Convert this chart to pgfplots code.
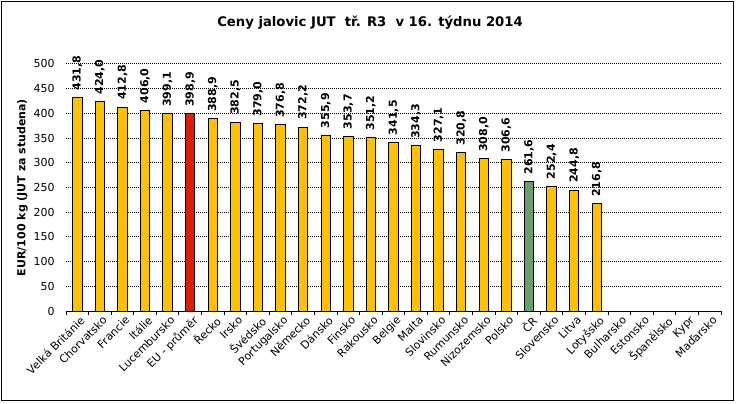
\documentclass[border=0pt]{standalone}
\usepackage{fontspec}
\setmainfont{DejaVu Sans}
\usepackage{pgfplots}
\pgfplotsset{compat=1.18}
\definecolor{barY}{HTML}{FFC000}
\definecolor{barR}{HTML}{DA2000}
\definecolor{barG}{HTML}{6A9E6A}
\begin{document}
\begin{tikzpicture}[x=0.75pt,y=0.75pt]
\path[fill=white] (0,0) rectangle (737,403);
\draw[line width=0.75pt] (1.5,3) rectangle (733.5,401.5);
\node[font=\bfseries\fontsize{9.9}{12}\selectfont] at (370,380) {Ceny jalovic JUT\ \ tř. R3\ \ v 16. týdnu 2014};
\begin{axis}[
  at={(49.5pt,69pt)}, anchor=south west,
  scale only axis, width=491.25pt, height=185.25pt,
  xmin=-0.5, xmax=28.5, ymin=0, ymax=500,
  axis x line=bottom, axis y line=left,
  axis line style={-},
  y axis line style={draw=none},
  x axis line style={line width=0.75pt},
  ytick={0,50,...,500},
  xtick={0,...,28},
  minor xtick={-0.5,0.5,...,28.5},
  xtick align=outside,
  major tick length=0pt, minor tick length=3pt,
  minor tick style={black, line width=0.75pt},
  xticklabels={Velká Británie,Chorvatsko,Francie,Itálie,Lucembursko,EU - průměr,Řecko,Irsko,Švédsko,Portugalsko,Německo,Dánsko,Finsko,Rakousko,Belgie,Malta,Slovinsko,Rumunsko,Nizozemsko,Polsko,ČR,Slovensko,Litva,Lotyšsko,Bulharsko,Estonsko,Španělsko,Kypr,Maďarsko},
  x tick label style={rotate=45, anchor=north east, inner sep=1pt, font=\fontsize{8.25}{10}\selectfont, yshift=-2pt},
  y tick label style={font=\fontsize{8.25}{10}\selectfont, xshift=-5pt},
  /pgf/number format/assume math mode=true,
  ymajorgrids,
  major grid style={black, line width=0.75pt, dash pattern=on 0.75pt off 0.75pt},
  ylabel={EUR/100 kg (JUT za studena)},
  ylabel shift=-2.5pt,
  ylabel style={font=\bfseries\fontsize{8.25}{10}\selectfont},
  bar width=7.1pt,
  nodes near coords={\pgfmathprintnumber[fixed,fixed zerofill,precision=1,use comma]{\pgfplotspointmeta}},
  nodes near coords style={rotate=90, anchor=west, inner sep=0pt, inner xsep=5pt, font=\bfseries\fontsize{8.25}{10}\selectfont},
]
\addplot[ybar, bar shift=0pt, fill=barY, draw=black, line width=0.75pt] coordinates {
(0,431.8) (1,424.0) (2,412.8) (3,406.0) (4,399.1)
(6,388.9) (7,382.5) (8,379.0) (9,376.8) (10,372.2) (11,355.9) (12,353.7) (13,351.2)
(14,341.5) (15,334.3) (16,327.1) (17,320.8) (18,308.0) (19,306.6)
(21,252.4) (22,244.8) (23,216.8)};
\addplot[ybar, bar shift=0pt, fill=barR, draw=black, line width=0.75pt] coordinates {(5,398.9)};
\addplot[ybar, bar shift=0pt, fill=barG, draw=black, line width=0.75pt] coordinates {(20,261.6)};
\end{axis}
\end{tikzpicture}
\end{document}
